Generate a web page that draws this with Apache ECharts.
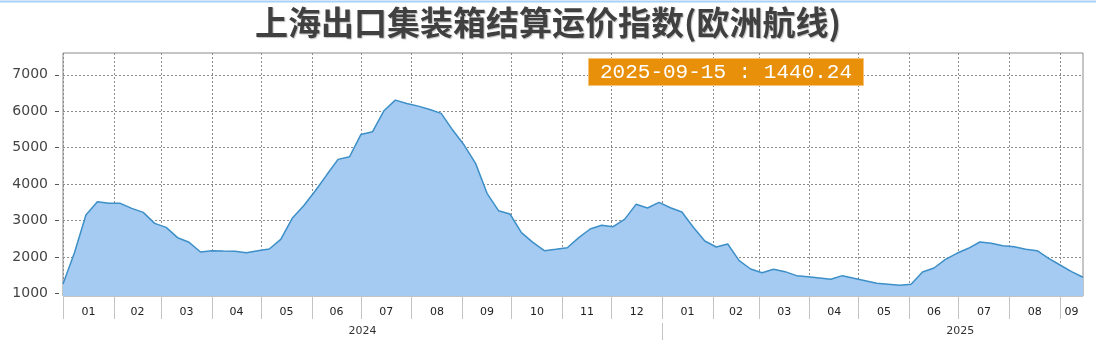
<!DOCTYPE html>
<html>
<head>
<meta charset="utf-8">
<script src="https://cdn.jsdelivr.net/npm/echarts@6/dist/echarts.min.js"></script>
<style>
html,body{margin:0;padding:0;background:#fff;}
#chart{width:1096px;height:345px;}
</style>
</head>
<body>
<div id="chart"></div>
<script>
// ---- data ----
const titleText = '上海出口集装箱结算运价指数(欧洲航线)';
const dates = [
  '2024-01-01','2024-01-08','2024-01-15','2024-01-22','2024-01-29',
  '2024-02-05','2024-02-12','2024-02-19','2024-02-26',
  '2024-03-04','2024-03-11','2024-03-18','2024-03-25',
  '2024-04-01','2024-04-08','2024-04-15','2024-04-22','2024-04-29',
  '2024-05-06','2024-05-13','2024-05-20','2024-05-27',
  '2024-06-03','2024-06-10','2024-06-17','2024-06-24',
  '2024-07-01','2024-07-08','2024-07-15','2024-07-22','2024-07-29',
  '2024-08-05','2024-08-12','2024-08-19','2024-08-26',
  '2024-09-02','2024-09-09','2024-09-16','2024-09-23','2024-09-30',
  '2024-10-07','2024-10-14','2024-10-21','2024-10-28',
  '2024-11-04','2024-11-11','2024-11-18','2024-11-25',
  '2024-12-02','2024-12-09','2024-12-16','2024-12-23','2024-12-30',
  '2025-01-06','2025-01-13','2025-01-20','2025-01-27',
  '2025-02-03','2025-02-10','2025-02-17','2025-02-24',
  '2025-03-03','2025-03-10','2025-03-17','2025-03-24','2025-03-31',
  '2025-04-07','2025-04-14','2025-04-21','2025-04-28',
  '2025-05-05','2025-05-12','2025-05-19','2025-05-26',
  '2025-06-02','2025-06-09','2025-06-16','2025-06-23','2025-06-30',
  '2025-07-07','2025-07-14','2025-07-21','2025-07-28',
  '2025-08-04','2025-08-11','2025-08-18','2025-08-25',
  '2025-09-01','2025-09-08','2025-09-15'
];
const values = [
  1255, 2115, 3150, 3515, 3470,
  3470, 3333, 3223, 2920,
  2810, 2527, 2400, 2134,
  2170, 2161, 2155, 2115, 2170,
  2216, 2482, 3058, 3405,
  3808, 4247, 4678, 4750,
  5364, 5436, 6013, 6306, 6215,
  6141, 6050, 5941, 5483,
  5071, 4568, 3745, 3268, 3177,
  2664, 2400, 2170, 2208,
  2252, 2527, 2765, 2866,
  2828, 3031, 3443, 3342, 3498,
  3350, 3232, 2812, 2436,
  2271, 2353, 1895, 1667,
  1566, 1659, 1594, 1484, 1456,
  1420, 1384, 1484, 1412,
  1346, 1274, 1247, 1220,
  1247, 1585, 1694, 1933, 2098,
  2235, 2408, 2372, 2307,
  2280, 2208, 2170, 1961,
  1777, 1594, 1440.24
];
const yTicks = [1000, 2000, 3000, 4000, 5000, 6000, 7000];
const monthStarts = [
  '2024-01-01','2024-02-01','2024-03-01','2024-04-01','2024-05-01','2024-06-01',
  '2024-07-01','2024-08-01','2024-09-01','2024-10-01','2024-11-01','2024-12-01',
  '2025-01-01','2025-02-01','2025-03-01','2025-04-01','2025-05-01','2025-06-01',
  '2025-07-01','2025-08-01','2025-09-01'
];
const monthLabels = ['01','02','03','04','05','06','07','08','09','10','11','12',
                     '01','02','03','04','05','06','07','08','09'];
const yearStarts = ['2025-01-01'];
const yearLabelDates = ['2024-07-02','2025-07-02'];
const yearLabels = ['2024','2025'];

// ---- build ----
function ts(s){ const p = s.split('-'); return Date.UTC(+p[0], +p[1]-1, +p[2]); }
const xMin = ts(dates[0]);
const xMax = ts(dates[dates.length-1]);
const seriesData = dates.map((d,i)=>[ts(d), values[i]]);
const monthTickVals = monthStarts.map(ts);
const monthLabelVals = monthTickVals.map((v,i)=>{
  const end = i+1 < monthTickVals.length ? monthTickVals[i+1] : xMax;
  return (v + Math.min(end, xMax)) / 2;
});
function nearestLabel(vals, labels, v){
  let best = 0, bd = Infinity;
  vals.forEach((x,i)=>{ const d = Math.abs(x - v); if (d < bd){ bd = d; best = i; } });
  return bd < 86400000 ? labels[best] : '';
}
const yearLabelVals = yearLabelDates.map(ts);
const lastLabel = dates[dates.length-1] + ' : ' + values[values.length-1].toFixed(2);

const chart = echarts.init(document.getElementById('chart'), null, {renderer:'canvas'});
chart.setOption({
  animation: false,
  backgroundColor: '#ffffff',
  title: [{
    text: titleText,
    left: 'center',
    top: 1,
    textStyle: {
      fontFamily: 'Noto Sans CJK SC',
      fontSize: 33,
      fontWeight: 'bold',
      color: '#404040',
      textShadowColor: 'rgba(0,0,0,0.25)',
      textShadowBlur: 1,
      textShadowOffsetX: 1,
      textShadowOffsetY: 1
    }
  },{
    text: lastLabel,
    left: 588,
    top: 58,
    padding: [4, 12, 3, 12],
    backgroundColor: '#e8900a',
    borderColor: '#f6c27a',
    borderWidth: 1,
    textStyle: {
      fontFamily: 'Liberation Mono',
      fontSize: 21,
      fontWeight: 'normal',
      color: '#ffffff'
    }
  }],
  graphic: [{
    type: 'line',
    shape: {x1: 0, y1: 1.5, x2: 1096, y2: 1.5},
    style: {stroke: '#a9d0f5', lineWidth: 2},
    silent: true
  }],
  grid: {
    left: 63, right: 13, top: 53, bottom: 49,
    show: true,
    borderColor: '#8a8a8a',
    borderWidth: 1,
    backgroundColor: 'transparent'
  },
  xAxis: [{
    type: 'value',
    min: xMin,
    max: xMax,
    axisLine: {show: false},
    axisTick: {show: true, customValues: monthTickVals, length: 23, lineStyle: {color: '#c4c4c4', width: 1}},
    axisLabel: {
      customValues: monthLabelVals,
      margin: 11,
      fontFamily: 'DejaVu Sans',
      fontSize: 11,
      color: '#222',
      showMinLabel: true,
      showMaxLabel: true,
      formatter: function(v){ return nearestLabel(monthLabelVals, monthLabels, v); }
    },
    splitLine: {show: true, lineStyle: {color: '#8c8c8c', type: [2,2], width: 1}}
  },{
    type: 'value',
    min: xMin,
    max: xMax,
    position: 'bottom',
    offset: 27,
    axisLine: {show: false},
    axisTick: {show: true, customValues: yearStarts.map(ts), length: 17, lineStyle: {color: '#c4c4c4', width: 1}},
    axisLabel: {
      customValues: yearLabelVals,
      margin: 3,
      fontFamily: 'DejaVu Sans',
      fontSize: 11,
      color: '#333',
      formatter: function(v){ return nearestLabel(yearLabelVals, yearLabels, v); }
    },
    splitLine: {show: false}
  }],
  yAxis: {
    type: 'value',
    min: 925,
    max: 7600,
    offset: 4,
    axisLine: {show: false},
    axisTick: {show: true, customValues: yTicks, length: 4, lineStyle: {color: '#555'}},
    axisLabel: {
      customValues: yTicks,
      margin: 11,
      fontFamily: 'DejaVu Sans',
      fontSize: 14,
      color: '#444',
      formatter: function(v){ return String(Math.round(v)); }
    },
    splitLine: {show: true, lineStyle: {color: '#8c8c8c', type: [2,2], width: 1}}
  },
  series: [{
    type: 'line',
    xAxisIndex: 0,
    data: seriesData,
    showSymbol: false,
    symbol: 'none',
    lineStyle: {color: '#3d8fc8', width: 1.5},
    areaStyle: {color: '#a5cbf3', opacity: 1, origin: 'start'},
    z: 1
  }]
});
</script>
</body>
</html>
